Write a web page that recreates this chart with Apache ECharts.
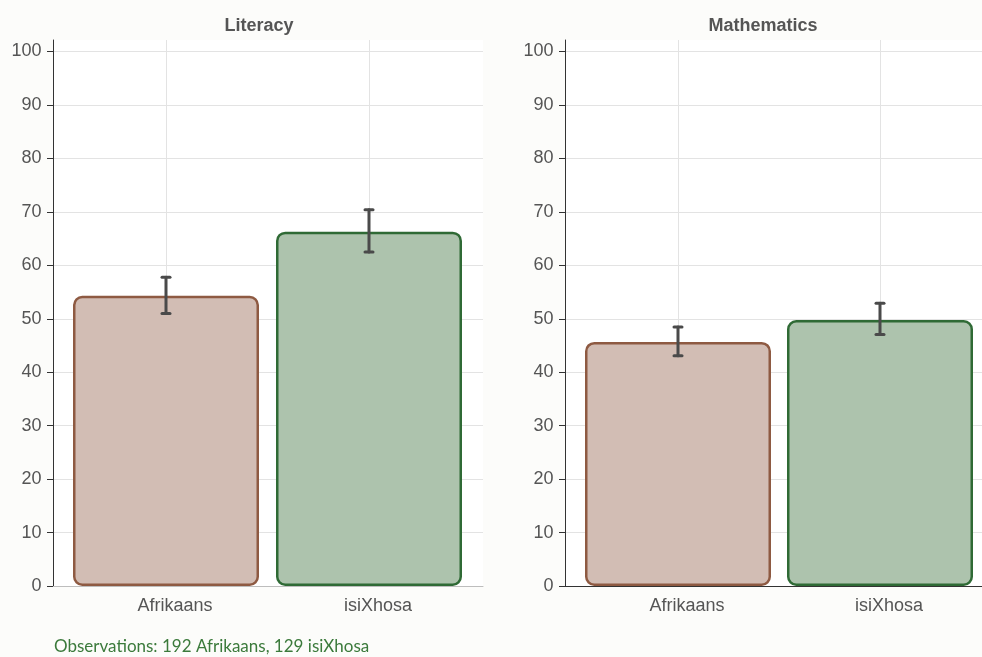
<!DOCTYPE html>
<html>
<head>
<meta charset="utf-8">
<script src="https://cdn.jsdelivr.net/npm/echarts@6/dist/echarts.min.js"></script>
<style>
  html, body { margin: 0; padding: 0; background: #fcfcfa; }
  #chart { width: 982px; height: 657px; }
</style>
</head>
<body>
<div id="chart"></div>
<script>
// Mean scores by home language, with error bars
const categories = ['Afrikaans', 'isiXhosa'];
const panelTitles = ['Literacy', 'Mathematics'];
const yTicks = [0, 10, 20, 30, 40, 50, 60, 70, 80, 90, 100];

const literacyMean = [54.2, 66.2];
const literacyLow = [50.9, 62.4];
const literacyHigh = [57.7, 70.3];

const mathsMean = [45.6, 49.7];
const mathsLow = [43.0, 47.0];
const mathsHigh = [48.4, 52.8];

const footnote = 'Observations: 192 Afrikaans, 129 isiXhosa';

const fills = ['#d2bdb4', '#adc3ad'];
const borders = ['#8e5a42', '#2f6a35'];
const FONT = 'Liberation Sans, Arial, Helvetica, sans-serif';

const panels = [
  { title: panelTitles[0], mean: literacyMean, low: literacyLow, high: literacyHigh,
    bg: { left: 53, width: 430 }, fg: { left: 64.5, width: 406 }, xLine: '#bdbdbd', titleX: 254 },
  { title: panelTitles[1], mean: mathsMean, low: mathsLow, high: mathsHigh,
    bg: { left: 565, width: 417 }, fg: { left: 577, width: 404 }, xLine: '#333', titleX: 758 }
];

const TOP_FULL = 40, BOTTOM = 71, TOP_100 = 51.5;
const grid = [], xAxis = [], yAxis = [], series = [], title = [];

panels.forEach((p, i) => {
  const gBg = i * 2, gFg = i * 2 + 1;
  // background grid: y labels, ticks, horizontal gridlines
  grid.push({ left: p.bg.left, width: p.bg.width, top: TOP_100, bottom: BOTTOM, show: false });
  // foreground grid: bars, error bars, category labels
  grid.push({ left: p.fg.left, width: p.fg.width, top: TOP_FULL, bottom: BOTTOM });

  xAxis.push({ type: 'category', gridIndex: gBg, data: categories,
    axisLine: { show: true, lineStyle: { color: p.xLine, width: 1 } },
    axisTick: { show: false }, axisLabel: { show: false }, splitLine: { show: false } });
  xAxis.push({ type: 'category', gridIndex: gFg, data: categories,
    axisLine: { show: false }, axisTick: { show: false },
    axisLabel: { color: '#555', fontSize: 18, margin: 11, fontFamily: FONT, padding: [0, 0, 0, 18] },
    splitLine: { show: false } });

  yAxis.push({ type: 'value', gridIndex: gBg, min: 0, max: 100, interval: 10,
    axisLine: { show: false },
    axisTick: { show: true, length: 6, lineStyle: { color: '#333' } },
    axisLabel: { color: '#555', fontSize: 18, margin: 11.5, fontFamily: FONT, customValues: yTicks },
    splitLine: { show: true, lineStyle: { color: '#e3e3e3', width: 1 } } });
  yAxis.push({ type: 'value', gridIndex: gFg, min: 0, max: 102,
    offset: p.fg.left - p.bg.left,
    axisLine: { show: true, lineStyle: { color: '#333', width: 1 } },
    axisTick: { show: false }, axisLabel: { show: false }, splitLine: { show: false } });

  title.push({ text: p.title, left: p.titleX, top: 12, textAlign: 'center',
    textStyle: { color: '#555', fontSize: 18, fontWeight: 'bold', fontFamily: FONT } });

  // vertical gridlines at category centres
  series.push({ type: 'line', xAxisIndex: gFg, yAxisIndex: gFg, data: [], silent: true, z: 1,
    markLine: { silent: true, symbol: 'none', z: 1, label: { show: false },
      lineStyle: { color: '#e3e3e3', width: 1, type: 'solid' },
      data: categories.map(c => [{ xAxis: c, y: TOP_FULL }, { xAxis: c, y: 657 - BOTTOM }]) } });

  series.push({ type: 'bar', xAxisIndex: gFg, yAxisIndex: gFg, z: 2, barWidth: 186, clip: false,
    data: p.mean.map((v, k) => ({ value: v,
      itemStyle: { color: fills[k], borderColor: borders[k], borderWidth: 2.5, borderRadius: 8 } })) });

  series.push({ type: 'custom', xAxisIndex: gFg, yAxisIndex: gFg, z: 3,
    data: p.mean.map((_, k) => [k, p.low[k], p.high[k]]),
    renderItem: function (params, api) {
      const lo = api.coord([api.value(0), api.value(1)]);
      const hi = api.coord([api.value(0), api.value(2)]);
      const style = { stroke: '#4a4a4a', lineWidth: 3, lineCap: 'round' };
      const cap = 4;
      return { type: 'group', children: [
        { type: 'line', shape: { x1: lo[0], y1: lo[1], x2: hi[0], y2: hi[1] }, style },
        { type: 'line', shape: { x1: lo[0] - cap, y1: lo[1], x2: lo[0] + cap, y2: lo[1] }, style },
        { type: 'line', shape: { x1: hi[0] - cap, y1: hi[1], x2: hi[0] + cap, y2: hi[1] }, style }
      ] };
    } });
});

// white plot backgrounds and the footnote
const graphic = panels.map(p => ({ type: 'rect', z: -10, silent: true,
  shape: { x: p.bg.left, y: TOP_FULL, width: p.bg.width, height: 657 - BOTTOM - TOP_FULL },
  style: { fill: '#ffffff' } }));
graphic.push({ type: 'text', left: 54, top: 638, silent: true,
  style: { text: footnote, fill: '#3b7a3b', fontSize: 17, fontFamily: 'Lato, sans-serif', fontWeight: 'normal' } });

const chart = echarts.init(document.getElementById('chart'), null, { renderer: 'canvas' });
chart.setOption({
  backgroundColor: '#fcfcfa',
  animation: false,
  title, grid, xAxis, yAxis, series, graphic
});
</script>
</body>
</html>
